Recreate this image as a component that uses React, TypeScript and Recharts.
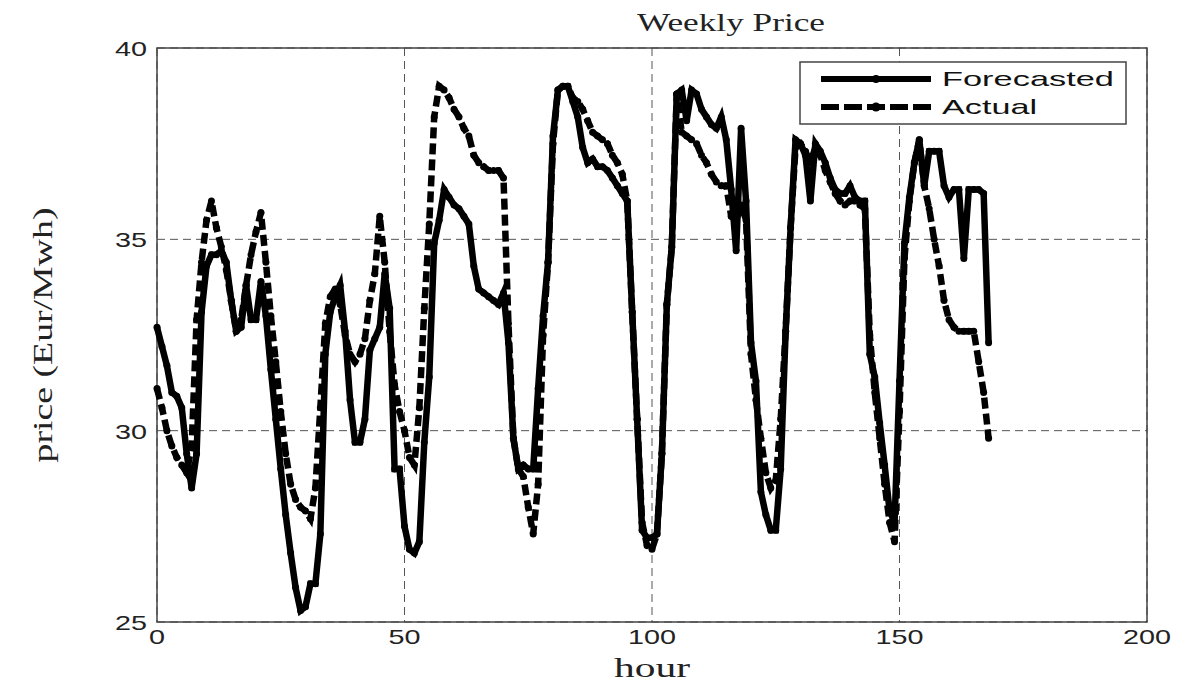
import React from 'react';
import { LineChart, Line, XAxis, YAxis, CartesianGrid, ReferenceArea } from 'recharts';

// hourly prices, hour 0..168
const forecasted = [
  32.7, 32.2, 31.7, 31.0, 30.9, 30.6, 29.4, 28.5, 29.4, 33.1,
  34.3, 34.6, 34.6, 34.7, 34.4, 33.4, 32.6, 32.7, 33.8, 32.9,
  32.9, 33.9, 33.0, 31.6, 30.3, 29.0, 27.8, 26.8, 25.9, 25.3,
  25.4, 26.0, 26.0, 27.3, 32.0, 33.1, 33.5, 33.8, 32.6, 30.8,
  29.7, 29.7, 30.3, 32.1, 32.4, 32.7, 34.1, 33.2, 29.0, 29.0,
  27.5, 26.9, 26.8, 27.1, 29.7, 31.4, 34.9, 35.5, 36.3, 36.1,
  35.9, 35.8, 35.6, 35.4, 34.3, 33.7, 33.6, 33.5, 33.4, 33.3,
  33.6, 32.3, 29.8, 29.0, 29.1, 29.0, 29.0, 31.1, 33.0, 34.4,
  37.7, 38.9, 39.0, 39.0, 38.6, 38.2, 37.4, 37.0, 37.1, 36.9,
  36.9, 36.8, 36.6, 36.4, 36.2, 36.0, 33.1, 30.3, 27.4, 27.2,
  27.2, 27.3, 29.4, 33.3, 34.8, 38.8, 38.9, 38.1, 38.9, 38.8,
  38.4, 38.2, 38.0, 37.9, 38.2, 37.6, 36.3, 34.7, 37.9, 36.0,
  32.3, 31.3, 28.4, 27.8, 27.4, 27.4, 29.0, 32.6, 35.3, 37.6,
  37.5, 37.2, 36.0, 37.5, 37.3, 37.0, 36.6, 36.3, 36.2, 36.2,
  36.4, 36.1, 36.0, 36.0, 32.0, 31.4, 30.2, 29.1, 27.9, 27.6,
  31.3, 34.9, 36.1, 37.0, 37.6, 36.4, 37.3, 37.3, 37.3, 36.4,
  36.1, 36.3, 36.3, 34.5, 36.3, 36.3, 36.3, 36.2, 32.3,
];

const actual = [
  31.1, 30.6, 30.0, 29.6, 29.3, 29.1, 28.9, 29.6, 32.9, 34.4,
  35.5, 36.0, 35.3, 34.8, 34.2, 33.4, 32.6, 32.9, 33.8, 34.6,
  35.2, 35.7, 34.4, 33.0, 31.8, 30.5, 29.4, 28.6, 28.2, 28.0,
  27.9, 27.7, 28.5, 30.6, 32.8, 33.5, 33.7, 33.3, 32.5, 32.0,
  31.8, 32.0, 32.4, 33.4, 34.1, 35.6, 34.4, 32.6, 31.2, 30.5,
  30.0, 29.3, 29.1, 30.6, 33.2, 35.4, 38.2, 39.0, 38.9, 38.7,
  38.4, 38.2, 37.9, 37.7, 37.2, 37.0, 36.9, 36.8, 36.8, 36.8,
  36.6, 32.8, 29.8, 29.0, 28.8, 28.0, 27.3, 28.6, 32.5, 34.4,
  37.5, 38.9, 39.0, 39.0, 38.7, 38.6, 38.4, 38.1, 37.8, 37.7,
  37.6, 37.5, 37.2, 37.0, 36.7, 36.0, 33.1, 30.3, 27.6, 27.0,
  26.9, 27.3, 29.4, 33.3, 34.8, 38.8, 37.8, 37.7, 37.6, 37.5,
  37.2, 37.0, 36.7, 36.5, 36.4, 36.4, 35.6, 35.5, 35.9, 35.5,
  32.0, 30.8, 29.8, 28.9, 28.5, 28.7, 30.3, 32.6, 35.3, 37.4,
  37.5, 37.3, 37.0, 37.4, 37.2, 36.8, 36.5, 36.2, 36.0, 35.9,
  36.0, 36.0, 35.9, 35.8, 32.5, 31.0, 29.8, 28.6, 27.6, 27.1,
  30.5, 34.5, 36.0, 37.0, 37.6, 36.4, 35.8, 35.0, 34.3, 33.4,
  32.9, 32.7, 32.6, 32.6, 32.6, 32.6, 31.8, 31.0, 29.8,
];

const xTicks = [0, 50, 100, 150, 200];
const yTicks = [25, 30, 35, 40];

const data = forecasted.map((f, i) => ({ hour: i, forecasted: f, actual: actual[i] }));

const serif = '"Liberation Serif", "DejaVu Serif", serif';
const sans = '"Liberation Sans", Arial, sans-serif';

const XTick = ({ x, y, payload }: any) => {
  const s = String(payload.value);
  return (
    <text x={x} y={y + 22} textAnchor="middle" fontFamily={sans} fontSize={21} fill="#222"
      textLength={s.length * 16} lengthAdjust="spacingAndGlyphs">{s}</text>
  );
};

const YTick = ({ x, y, payload }: any) => {
  const s = String(payload.value);
  return (
    <text x={x - 10} y={y + 8} textAnchor="end" fontFamily={sans} fontSize={21} fill="#222"
      textLength={s.length * 16} lengthAdjust="spacingAndGlyphs">{s}</text>
  );
};

// legend drawn as overlay so it does not eat plot space
const LegendBox = () => (
  <svg width={328} height={64} style={{ position: 'absolute', left: 799, top: 61 }}>
    <rect x={1} y={1} width={326} height={62} fill="#fff" stroke="#444" strokeWidth={1.5} />
    <line x1={22} y1={18} x2={132} y2={18} stroke="#000" strokeWidth={6} />
    <circle cx={77} cy={18} r={4} fill="#000" />
    <text x={143} y={25} fontFamily={sans} fontSize={21} fill="#111" textLength={172} lengthAdjust="spacingAndGlyphs">Forecasted</text>
    <line x1={22} y1={46} x2={132} y2={46} stroke="#000" strokeWidth={6} strokeDasharray="18 5" />
    <circle cx={77} cy={46} r={4.5} fill="#000" />
    <text x={143} y={53} fontFamily={sans} fontSize={21} fill="#111" textLength={95} lengthAdjust="spacingAndGlyphs">Actual</text>
  </svg>
);

export default function App() {
  return (
    <div style={{ position: 'absolute', left: 0, top: 0, width: 1182, height: 686, background: '#fff' }}>
      <LineChart width={1182} height={686} data={data} margin={{ top: 48, right: 35, bottom: 34, left: 97 }}>
        <CartesianGrid stroke="#555" strokeDasharray="8 5" strokeWidth={1} />
        <XAxis dataKey="hour" type="number" domain={[0, 200]} ticks={xTicks} height={30}
          axisLine={false} tickLine={false} tickSize={0} tickMargin={0} tick={<XTick />} interval={0} />
        <YAxis type="number" domain={[25, 40]} ticks={yTicks} width={60}
          axisLine={false} tickLine={false} tickSize={0} tickMargin={0} tick={<YTick />} interval={0} />
        <ReferenceArea x1={0} x2={200} y1={25} y2={40} fill="none" stroke="#444" strokeWidth={1.5} />
        <Line dataKey="forecasted" type="linear" stroke="#000" strokeWidth={6.5}
          dot={{ r: 3.5, fill: '#000', stroke: '#000', strokeWidth: 0 }} isAnimationActive={false} />
        <Line dataKey="actual" type="linear" stroke="#000" strokeWidth={6.5} strokeDasharray="11 5"
          dot={{ r: 3.5, fill: '#000', stroke: '#000', strokeWidth: 0 }} isAnimationActive={false} />
      </LineChart>
      <LegendBox />
      <svg width={1182} height={686} style={{ position: 'absolute', left: 0, top: 0, pointerEvents: 'none' }}>
        <text x={731} y={31} textAnchor="middle" fontFamily={serif} fontSize={26} fill="#222"
          textLength={188} lengthAdjust="spacingAndGlyphs">Weekly Price</text>
        <text x={652} y={677} textAnchor="middle" fontFamily={serif} fontSize={28} fill="#222"
          textLength={76} lengthAdjust="spacingAndGlyphs">hour</text>
        <text transform="translate(52, 335) rotate(-90)" textAnchor="middle" fontFamily={serif} fontSize={28} fill="#222"
          textLength={255} lengthAdjust="spacingAndGlyphs">price (Eur/Mwh)</text>
      </svg>
    </div>
  );
}
